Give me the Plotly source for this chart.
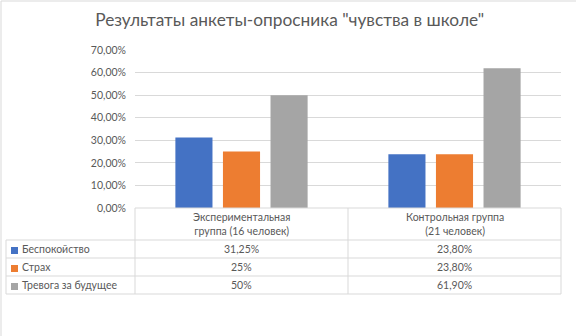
import plotly.graph_objects as go

categories = ["Экспериментальная группа (16 человек)", "Контрольная группа (21 человек)"]
category_labels = ["Экспериментальная<br>группа (16 человек)", "Контрольная группа<br>(21 человек)"]
series_names = ["Беспокойство", "Страх", "Тревога за будущее"]
bespokoystvo = [0.3125, 0.238]
strakh = [0.25, 0.238]
trevoga = [0.50, 0.619]
table_labels = [["31,25%", "23,80%"], ["25%", "23,80%"], ["50%", "61,90%"]]
colors = ["#4472C4", "#ED7D31", "#A5A5A5"]

W, H = 576, 336
L, R, T, B = 135, 15, 50, 128
pw, ph = W - L - R, H - T - B


def xp(px):
    return (px - L) / pw


def yp(py):
    return (H - B - py) / ph


fig = go.Figure()
for name, vals, col in zip(series_names, [bespokoystvo, strakh, trevoga], colors):
    fig.add_trace(go.Bar(x=categories, y=vals, name=name, marker_color=col,
                         marker_line_width=0, showlegend=False, hoverinfo="skip"))

grid = "#D9D9D9"
txt = "#595959"
font = "Lato, Carlito, 'Liberation Sans', sans-serif"

shapes = []


def line(x0, y0, x1, y1, w=1, c=grid):
    shapes.append(dict(type="line", xref="paper", yref="paper", x0=xp(x0), y0=yp(y0),
                       x1=xp(x1), y1=yp(y1), line=dict(color=c, width=w)))


# table lines
row_y = [240, 258, 276, 294]
for y in row_y:
    line(6, y, 561, y)
line(135, 208, 561, 208)
line(6, 240, 6, 294)
for x in [135, 348, 561]:
    line(x, 208, x, 294)
# chart border (left & top)
line(1, 1, 1, 336)
line(1, 1, 576, 1)

annotations = []
col_centers = [241.5, 454.5]
for cx, lab in zip(col_centers, category_labels):
    annotations.append(dict(x=xp(cx), y=yp(224), xref="paper", yref="paper", text=lab,
                            showarrow=False, xanchor="center", yanchor="middle",
                            font=dict(size=10.5, color=txt, family=font)))
for i, (name, col) in enumerate(zip(series_names, colors)):
    cy = (row_y[i] + row_y[i + 1]) / 2
    shapes.append(dict(type="rect", xref="paper", yref="paper", x0=xp(11), x1=xp(18),
                       y0=yp(cy - 2), y1=yp(cy + 5), fillcolor=col, line=dict(width=0)))
    annotations.append(dict(x=xp(20), y=yp(cy), xref="paper", yref="paper", text=name,
                            showarrow=False, xanchor="left", yanchor="middle",
                            font=dict(size=10.5, color=txt, family=font)))
    for cx, lab in zip(col_centers, table_labels[i]):
        annotations.append(dict(x=xp(cx), y=yp(cy), xref="paper", yref="paper", text=lab,
                                showarrow=False, xanchor="center", yanchor="middle",
                                font=dict(size=10.5, color=txt, family=font)))

fig.update_layout(
    width=W, height=H,
    margin=dict(l=L, r=R, t=T, b=B),
    paper_bgcolor="white", plot_bgcolor="white",
    separators=", ",
    barmode="group", bargap=0.33, bargroupgap=0.22,
    title=dict(text='Результаты анкеты-опросника "чувства в школе"', x=0.503, xanchor="center",
               y=1 - 20 / H, yanchor="middle",
               font=dict(size=17.3, color=txt, family=font)),
    xaxis=dict(showticklabels=False, showgrid=False, zeroline=False, showline=False,
               ticks=""),
    yaxis=dict(range=[0, 0.7], dtick=0.1, tickformat=".2%", showgrid=True, gridcolor=grid,
               gridwidth=1, zeroline=False, showline=False, ticks="", ticklabelstandoff=8,
               tickfont=dict(size=10.5, color=txt, family=font)),
    shapes=shapes, annotations=annotations,
)

fig.write_html("out.html", config={"displayModeBar": False},
               post_script="document.body.style.margin='0';")
